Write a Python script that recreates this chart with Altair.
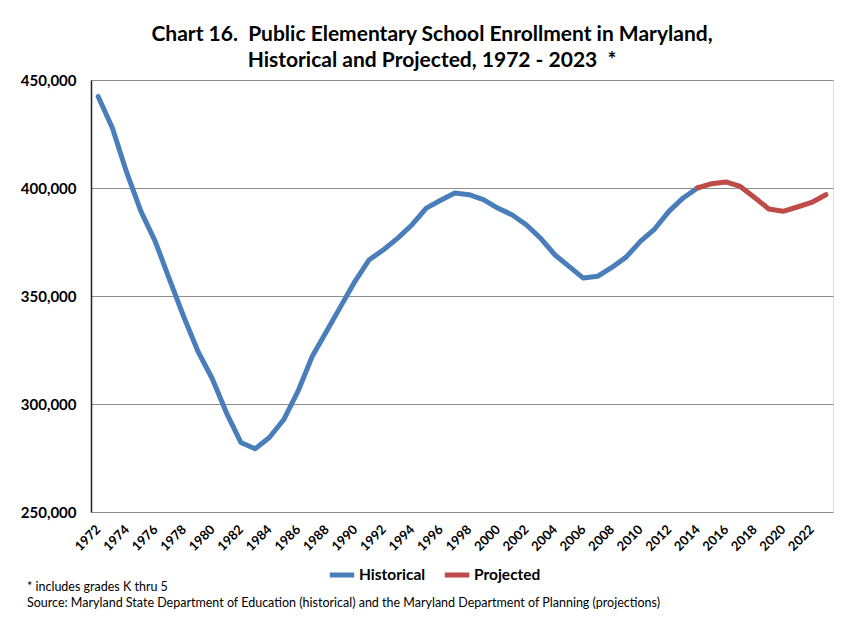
import altair as alt
import pandas as pd

hist_years = list(range(1972, 2015))
hist_values = [442400, 427800, 407200, 389200, 375300, 357700, 340400, 324300, 311700, 295800,
               282200, 279300, 284500, 292700, 305800, 322000, 333600, 345200, 356800, 366800,
               371400, 376800, 383000, 390700, 394300, 397700, 396900, 394600, 390700, 387600,
               383000, 376800, 369100, 363700, 358300, 359100, 363200, 368000, 375300, 381000,
               389200, 395400, 400000]
proj_years = list(range(2014, 2024))
proj_values = [400000, 402000, 402800, 400700, 395600, 390300, 389200, 391200, 393300, 396900]

x_ticks = list(range(1972, 2023, 2))
y_ticks = [250000, 300000, 350000, 400000, 450000]

df = pd.DataFrame({
    "year": hist_years + proj_years,
    "value": hist_values + proj_values,
    "series": ["Historical"] * len(hist_years) + ["Projected"] * len(proj_years),
})

FONT = "Lato"
W, H = 742, 432
NB = "\u00a0"

lines = alt.Chart(df).mark_line(strokeWidth=5, strokeJoin="round", strokeCap="round").encode(
    x=alt.X("year:Q", scale=alt.Scale(domain=[1971.5, 2023.5], nice=False, zero=False),
            axis=alt.Axis(values=x_ticks, labelAngle=315, labelAlign="right", labelBaseline="middle",
                          labelFontWeight="bold", labelFontSize=13, labelColor="black",
                          labelFont=FONT, ticks=False, grid=False, domain=False, title=None,
                          labelPadding=15, labelOverlap=False, format="d")),
    y=alt.Y("value:Q", scale=alt.Scale(domain=[250000, 450000], nice=False, zero=False),
            axis=alt.Axis(values=y_ticks, format=",d", labelFontWeight="bold", labelFontSize=15,
                          labelColor="black", labelFont=FONT, ticks=False, grid=True,
                          gridColor="#8c8c8c", gridWidth=1, domainColor="#222", domainWidth=1.5,
                          title=None, labelPadding=15)),
    color=alt.Color("series:N",
                    scale=alt.Scale(domain=["Historical", "Projected"], range=["#4A7EBB", "#BE4B48"]),
                    legend=alt.Legend(title=None, orient="none", direction="horizontal",
                                      legendX=236, legendY=480, symbolType="stroke",
                                      symbolStrokeWidth=5, symbolSize=600, labelFont=FONT,
                                      labelFontSize=15.5, labelFontWeight="bold", labelColor="black",
                                      columnPadding=8, labelOffset=2)),
)

foot = pd.DataFrame({"t": ["* includes grades K thru 5",
                           "Source: Maryland State Department of Education (historical) and the Maryland Department of Planning (projections)"],
                     "yy": [507, 523]})
notes = alt.Chart(foot).mark_text(align="left", baseline="middle", fontSize=12.5, font=FONT,
                                  color="black").encode(
    x=alt.value(-64), y=alt.Y("yy:Q", scale=None), text="t:N")

chart = alt.layer(lines, notes).properties(
    width=W, height=H,
    title=alt.Title([f"Chart 16.{NB} Public Elementary School Enrollment in Maryland,",
                     f"Historical and Projected, 1972 - 2023 {NB}*"],
                    font=FONT, fontSize=21, fontWeight="bold", color="black", anchor="middle",
                    dx=-30, offset=2, lineHeight=26),
    autosize=alt.AutoSizeParams(type="none"),
    padding={"left": 83, "top": 72, "right": 1, "bottom": 98},
).configure_view(stroke="#666", strokeWidth=1).configure(background="white")

chart.save("out.html", embed_options={"renderer": "svg", "actions": False})
